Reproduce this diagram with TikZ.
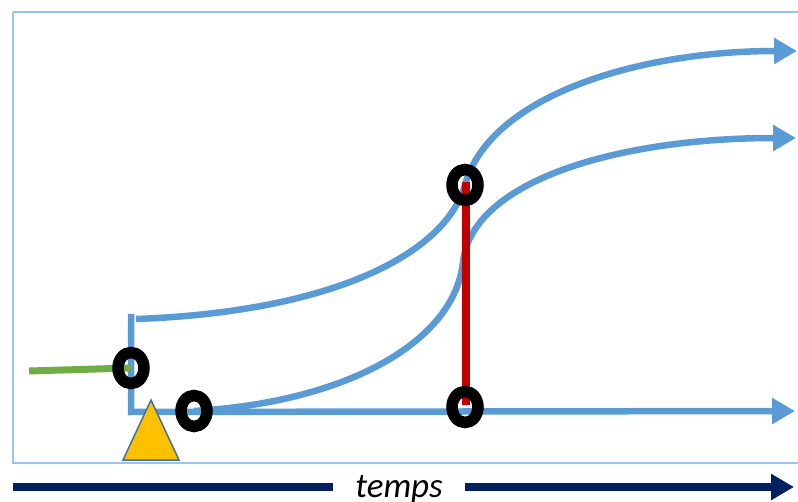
\documentclass[tikz,border=0pt]{standalone}
\usepackage{fontspec}
\setmainfont{Carlito}
\usetikzlibrary{arrows.meta,shapes.geometric}

\tikzset{
    trace/.style={line width=6.5pt, color=traceblue},
    ring/.style={ellipse, draw=black, line width=11.5pt, minimum width=26pt, minimum height=31pt, inner sep=0pt}
}
\definecolor{traceblue}{RGB}{91,155,213}
\definecolor{framblue}{RGB}{157,195,230}
\definecolor{navy}{RGB}{0,32,96}
\definecolor{darkred}{RGB}{192,0,0}
\definecolor{gold}{RGB}{255,192,0}
\definecolor{slate}{RGB}{65,113,156}
\definecolor{leaf}{RGB}{112,173,71}

\begin{document}
\begin{tikzpicture}[x=1pt, y=-1pt]
        \useasboundingbox (0, 0) rectangle (798, 502);
        \draw[framblue, line width=1.5pt] (13, 12) -- (800, 12) (13, 12) -- (13, 463) -- (800, 463);

        % points
        \coordinate (jump) at (131, 368);
        \coordinate (split) at (194, 411);
        \coordinate (high) at (465, 185);
        \coordinate (low) at (465, 407);

        % traces
        \draw[trace, -{Triangle[length=23pt, width=25pt]}] (131, 314) -- (131, 412) -- (795, 411);
        \draw[trace, -{Triangle[length=23pt, width=25pt]}] (136, 319) .. controls (330, 312) and (445, 255) .. (high) .. controls (490, 95) and (640, 51) .. (797, 51);
        \draw[trace, -{Triangle[length=23pt, width=25pt]}] (split) .. controls (350, 402) and (455, 340) .. (463, 262) .. controls (472, 180) and (620, 138) .. (796, 138);
        \draw[leaf, line width=7pt] (29, 371) -- (jump);
        \draw[darkred, line width=8pt] (466, 182) -- (466, 405);

        \filldraw[fill=gold, draw=slate, line width=1.5pt] (123, 460) -- (151, 400) -- (179, 460) -- cycle;

        \node[ring] (r1) at (jump) {};
        \node[ring] (r2) at (split) {};
        \node[ring] (r3) at (high) {};
        \node[ring] (r4) at (low) {};

        % time axis
        \node[font=\fontsize{35}{40}\selectfont\itshape, anchor=base] (t) at (399, 497) {temps};
        \draw[navy, line width=8.5pt] (13, 487) -- (333, 487);
        \draw[navy, line width=8.5pt, -{Triangle[length=23pt, width=25pt]}] (465, 487) -- (794, 487);
    \end{tikzpicture}
\end{document}
